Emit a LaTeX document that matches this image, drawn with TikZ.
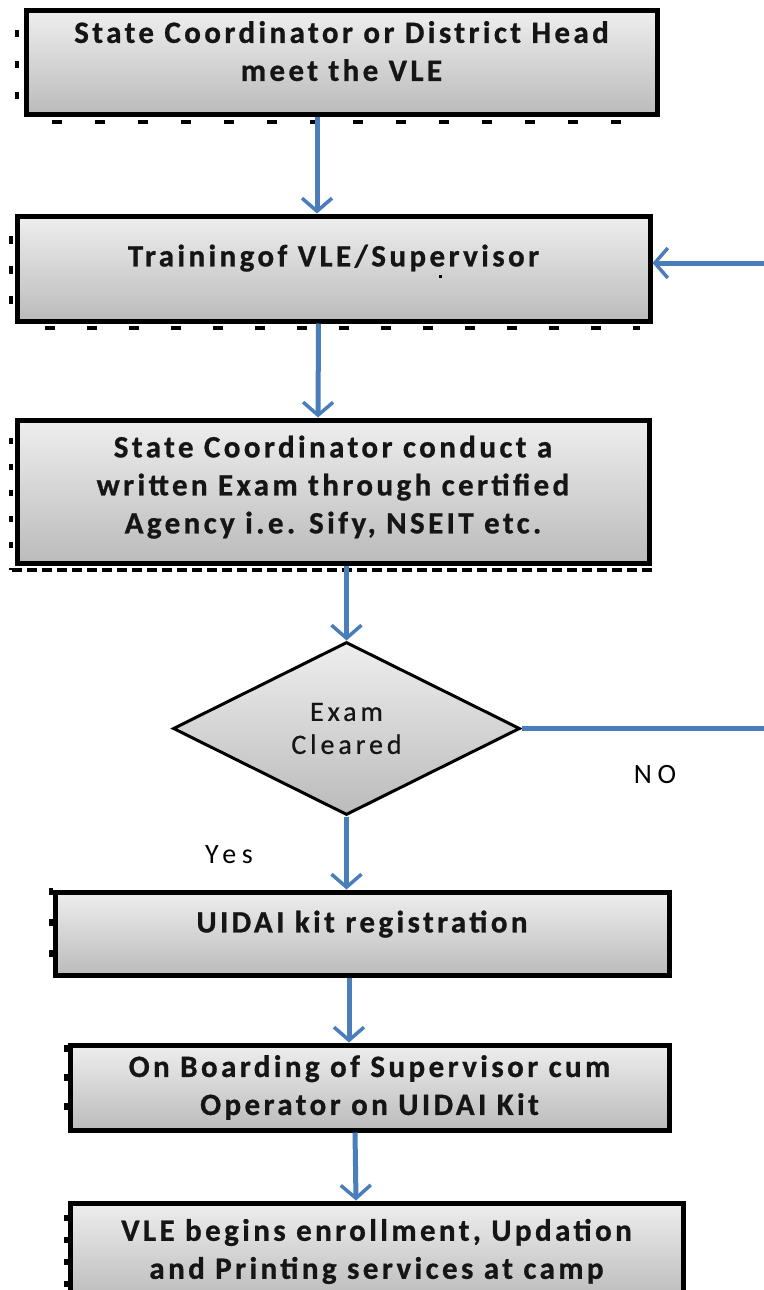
\documentclass[tikz,border=0pt]{standalone}
\usepackage{fontspec}
\setmainfont{Carlito}
\usetikzlibrary{arrows.meta,shapes.geometric}
\definecolor{flowblue}{HTML}{4A7EBB}
\definecolor{boxtop}{HTML}{EEEEEE}
\definecolor{boxbot}{HTML}{BBBBBB}
\definecolor{inktext}{HTML}{151515}
\tikzset{
  stepbox/.style={draw=black, line width=5pt, top color=boxtop, bottom color=boxbot,
    rectangle, inner sep=0pt, align=center, text=inktext,
    font=\fontsize{31}{38}\selectfont\bfseries\addfontfeature{LetterSpace=11,FakeBold=0.8}},
  decision/.style={draw=black, line width=3pt, top color=boxtop, bottom color=boxbot,
    diamond, inner sep=0pt, align=center, text=inktext,
    font=\fontsize{28}{33}\selectfont\addfontfeature{LetterSpace=14,FakeBold=0.6}},
  flow/.style={draw=flowblue, line width=5pt},
  arr/.style={flow, -{Straight Barb[length=13pt,width=30pt,line width=3.5pt]}},
  lbl/.style={font=\fontsize{28}{30}\selectfont\addfontfeature{LetterSpace=20}, inner sep=0pt},
  ghost/.style={draw=black, line width=3.5pt},
}
\begin{document}
\begin{tikzpicture}[x=1pt,y=-1pt]
\useasboundingbox[fill=white] (0,0) rectangle (763,1290);
% ghost marks (shadow artefacts)
\draw[ghost, dash pattern=on 10pt off 33pt] (52,122) -- (650,122);
\draw[ghost, dash pattern=on 7pt off 24pt] (17,30) -- (17,105);
\draw[ghost, dash pattern=on 10pt off 32pt] (45,328) -- (640,328);
\draw[ghost, dash pattern=on 8pt off 22pt] (11,236) -- (11,306);
\draw[ghost, dash pattern=on 10pt off 5pt] (12,570) -- (652,570);
\draw[ghost, dash pattern=on 6pt off 20pt] (11,438) -- (11,570);
\draw[ghost, dash pattern=on 7pt off 24pt] (51,888) -- (51,965);
\draw[ghost, dash pattern=on 7pt off 22pt] (66,1045) -- (66,1120);
\draw[ghost, dash pattern=on 6pt off 16pt] (66,1215) -- (66,1290);
% boxes
\node[stepbox, minimum width=631pt, minimum height=103pt, text depth=23pt] (b1) at (341.5,62.5)
  {State Coordinator or District Head\\meet the VLE};
\node[stepbox, minimum width=633pt, minimum height=105pt, text depth=26pt] (b2) at (333.5,268.5)
  {Trainingof VLE/Supervisor};
\fill (439,275) rectangle (442,278);
\node[stepbox, minimum width=632pt, minimum height=143pt, text depth=14pt] (b3) at (333,491.5)
  {State Coordinator conduct a\\written Exam through certified\\Agency i.e. Sify, NSEIT etc.};
\node[decision, minimum width=347pt, minimum height=173pt] (d) at (346.5,728.5)
  {Exam\\Cleared};
\node[stepbox, minimum width=614pt, minimum height=83pt, text depth=24pt] (b4) at (362,933.5)
  {UIDAI kit registration};
\node[stepbox, minimum width=599pt, minimum height=85pt] (b5) at (369.5,1087.5)
  {On Boarding of Supervisor cum\\Operator on UIDAI Kit};
\node[stepbox, minimum width=613pt, minimum height=97pt] (b6) at (376.5,1251.5)
  {VLE begins enrollment, Updation\\and Printing services at camp};
% labels
\node[lbl] (no) at (655,775) {NO};
\node[lbl] (yes) at (229,855) {Yes};
% connectors
\draw[arr] ([xshift=-24.5pt]b1.south) -- ([xshift=-16.5pt]b2.north);
\draw[arr] ([xshift=-15pt]b2.south) -- ([xshift=-15pt]b3.north);
\draw[arr] (b3.south -| d.north) -- (d.north);
\draw[arr] (d.south) -- (d.south |- b4.north);
\draw[arr] ([xshift=-13pt]b4.south) -- ([xshift=-20.5pt]b5.north);
\draw[arr] ([xshift=-14.5pt]b5.south) -- ([xshift=-20.5pt]b6.north);
\coordinate (r1) at (770,728.5);
\coordinate (r2) at (770,263);
\draw[arr] (d.east) -- (r1) -- (r2) -- (b2.east |- r2);
\end{tikzpicture}
\end{document}
